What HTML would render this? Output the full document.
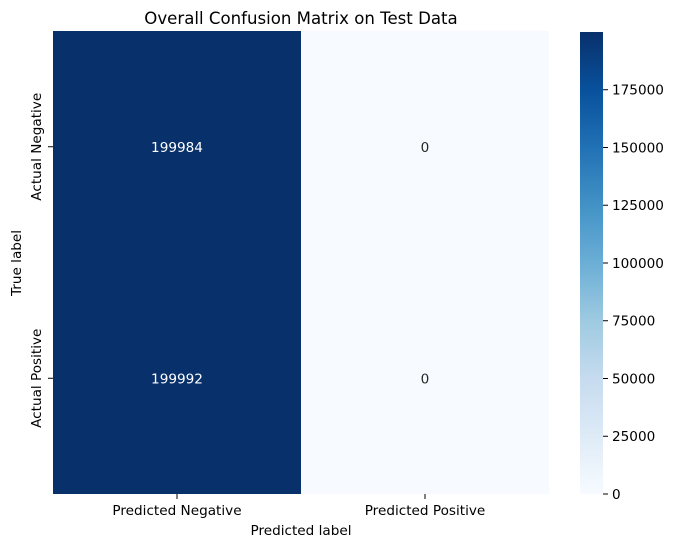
<!DOCTYPE html>
<html><head><meta charset="utf-8"><style>
body{margin:0;background:#fff;}
svg{display:block;font-family:"DejaVu Sans","Liberation Sans",sans-serif;}
</style></head><body>
<svg id="chart" width="675" height="547">
<defs><linearGradient id="blues" x1="0" y1="1" x2="0" y2="0">
<stop offset="0" stop-color="#f7fbff"/><stop offset="0.125" stop-color="#deebf7"/><stop offset="0.25" stop-color="#c6dbef"/><stop offset="0.375" stop-color="#9ecae1"/><stop offset="0.5" stop-color="#6baed6"/><stop offset="0.625" stop-color="#4292c6"/><stop offset="0.75" stop-color="#2171b5"/><stop offset="0.875" stop-color="#08519c"/><stop offset="1" stop-color="#08306b"/>
</linearGradient></defs>
<text x="301" y="24" font-size="16.6" text-anchor="middle" fill="#000">Overall Confusion Matrix on Test Data</text>
<g id="cells"></g>
<g id="xaxis"></g><g id="yaxis"></g>
<text x="301" y="535" font-size="13.6" text-anchor="middle">Predicted label</text>
<text x="0" y="0" font-size="13.6" text-anchor="middle" transform="translate(21,263) rotate(-90)">True label</text>
<rect x="580" y="32" width="23" height="462" fill="url(#blues)"/>
<g id="cbar"></g>
</svg>
<script>
const xCats=["Predicted Negative","Predicted Positive"];
const yCats=["Actual Negative","Actual Positive"];
const row0=[199984,0];
const row1=[199992,0];
const cbTicks=[0,25000,50000,75000,100000,125000,150000,175000];
const values=[row0,row1];
const L=53,R=549,T=31,B=494,CT=32,CB=494;
const vmax=Math.max(...row0,...row1), vmin=Math.min(...row0,...row1);
const stops=["#f7fbff","#deebf7","#c6dbef","#9ecae1","#6baed6","#4292c6","#2171b5","#08519c","#08306b"];
function hex(h){return [1,3,5].map(i=>parseInt(h.substr(i,2),16));}
function color(v){let t=(v-vmin)/((vmax-vmin)||1)*(stops.length-1);let i=Math.min(Math.floor(t),stops.length-2);let f=t-i;let a=hex(stops[i]),b=hex(stops[i+1]);return "rgb("+a.map((c,k)=>Math.round(c+(b[k]-c)*f)).join(",")+")";}
const cw=(R-L)/xCats.length, ch=(B-T)/yCats.length;
const xs=i=>L+i*cw, ys=j=>T+j*ch, cy=v=>CB-(v-vmin)/(vmax-vmin)*(CB-CT);
const NS="http://www.w3.org/2000/svg";
function mk(tag,attrs,parent,txt){const e=document.createElementNS(NS,tag);for(const k in attrs)e.setAttribute(k,attrs[k]);if(txt!==undefined)e.textContent=txt;parent.appendChild(e);return e;}
const cells=document.getElementById('cells');
values.forEach((row,j)=>row.forEach((v,i)=>{
 const r=mk('rect',{x:xs(i),y:ys(j),width:cw,height:ch,fill:color(v)},cells);
 
 
 const t=mk('text',{x:xs(i)+cw/2,y:ys(j)+ch/2+5,'font-size':13.6,'text-anchor':'middle',fill:(v-vmin)/(vmax-vmin)>0.5?'#fff':'#262626'},cells,String(v));
 
 
}));
const xa=document.getElementById('xaxis');
xCats.forEach((c,i)=>{const x=xs(i)+cw/2;
 mk('line',{x1:x,x2:x,y1:B,y2:B+5,stroke:'#000'},xa);
 const t=mk('text',{x:x,y:B+21,'font-size':13.6,'text-anchor':'middle'},xa,c);
 
 
});
const ya=document.getElementById('yaxis');
yCats.forEach((c,j)=>{const y=ys(j)+ch/2;
 mk('line',{x1:L-5,x2:L,y1:y,y2:y,stroke:'#000'},ya);
 const t=mk('text',{x:0,y:0,'font-size':13.6,'text-anchor':'middle',transform:'translate('+(L-12)+','+y+') rotate(-90)'},ya,c);
 
 
});
const cb=document.getElementById('cbar');
cbTicks.forEach(v=>{const y=cy(v);
 mk('line',{x1:603,x2:608,y1:y,y2:y,stroke:'#000'},cb);
 const t=mk('text',{x:612,y:y+5,'font-size':13.6},cb,String(v));
 
 
});
</script>
</body></html>
